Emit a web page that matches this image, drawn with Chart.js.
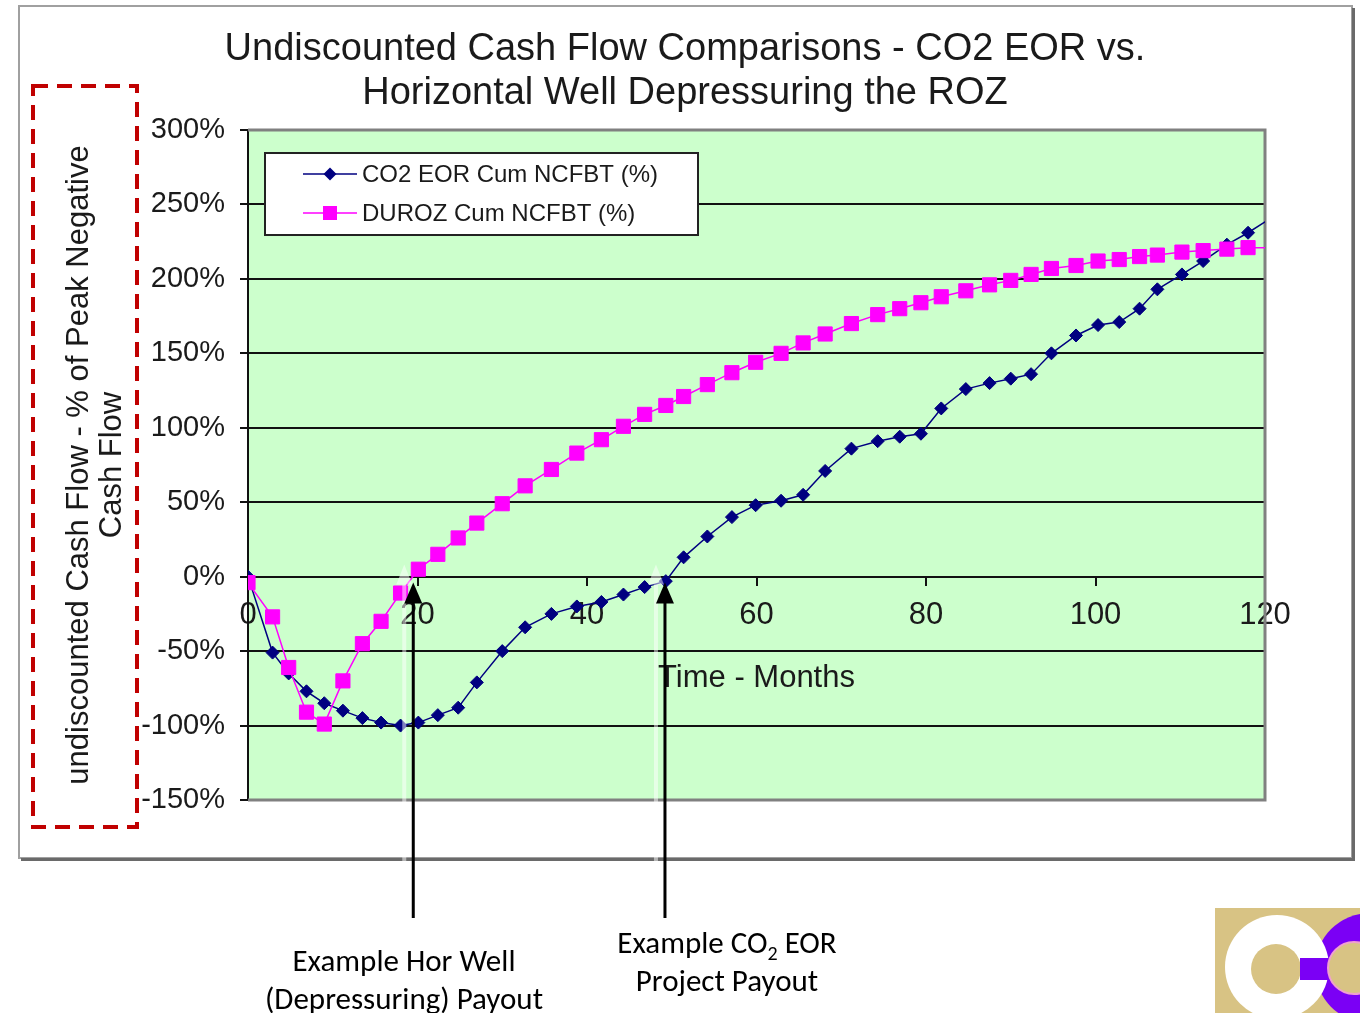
<!DOCTYPE html>
<html>
<head>
<meta charset="utf-8">
<title>Undiscounted Cash Flow Comparisons</title>
<script src="https://cdn.jsdelivr.net/npm/chart.js@4.4.1/dist/chart.umd.min.js"></script>
<style>
  html, body { margin: 0; padding: 0; background: #fff; }
  #wrap { position: relative; width: 1360px; height: 1013px; overflow: hidden; }
  #cashChart { position: absolute; left: 0; top: 0; }
  .note {
    position: absolute;
    font-family: Carlito, Lato, 'Open Sans', sans-serif;
    font-size: 31px;
    line-height: 38px;
    color: #000;
    text-align: center;
    white-space: nowrap;
    transform: translateX(-50%);
  }
  .note sub { font-size: 20px; line-height: 0; vertical-align: -7px; }
</style>
</head>
<body>
<div id="wrap">
  <canvas id="cashChart" width="1360" height="1013"></canvas>
  <div class="note" style="left:404px; top:941px;">Example Hor Well<br>(Depressuring) Payout</div>
  <div class="note" style="left:727px; top:923px;">Example CO<sub>2</sub> EOR<br>Project Payout</div>
</div>
<script>
// Time axis (months) shared by both series
const months = [0, 2.9, 4.8, 6.9, 9.0, 11.2, 13.5, 15.7, 18.0, 20.1,
    22.4, 24.8, 27.0, 30.0, 32.7, 35.8, 38.8, 41.7, 44.3, 46.8,
    49.3, 51.4, 54.2, 57.1, 59.9, 62.9, 65.5, 68.1, 71.2, 74.3,
    76.9, 79.4, 81.8, 84.7, 87.5, 90.0, 92.4, 94.8, 97.7, 100.3,
    102.8, 105.2, 107.3, 110.2, 112.7, 115.5, 118.0, 121];

// CO2 EOR cumulative NCFBT, % of peak negative cash flow
const co2EorPct = [0, -51, -65, -77, -85, -90, -95, -98, -100, -98,
    -93, -88, -71, -50, -34, -25, -20, -17, -12, -7,
    -3, 13, 27, 40, 48, 51, 55, 71, 86, 91,
    94, 96, 113, 126, 130, 133, 136, 150, 162, 169,
    171, 180, 193, 203, 212, 223, 231, 242];

// Horizontal well depressuring (DUROZ) cumulative NCFBT, %
const durozPct = [-4, -27, -61, -91, -99, -70, -45, -30, -11, 5,
    15, 26, 36, 49, 61, 72, 83, 92, 101, 109,
    115, 121, 129, 137, 144, 150, 157, 163, 170, 176,
    180, 184, 188, 192, 196, 199, 203, 207, 209, 212,
    213, 215, 216, 218, 219, 220, 221, 221];

const seriesLabels = ['CO2 EOR Cum NCFBT (%)', 'DUROZ Cum NCFBT (%)'];
const titleLines = ['Undiscounted Cash Flow Comparisons - CO2 EOR vs.',
    'Horizontal Well Depressuring the ROZ'];
const yTitleLines = ['undiscounted Cash Flow - % of Peak Negative', 'Cash Flow'];

// payout points the arrows point at (month, % value)
const payoutMonths = [19.5, 49.2];
const payoutValue = -4;

const FONT = "'Liberation Sans', Arial, sans-serif";
const TEXT = '#1a1a1a';

// page frame, green plot background, dashed red box
const backdrop = {
    id: 'backdrop',
    beforeDraw(chart) {
        const {ctx, chartArea: a} = chart;
        ctx.save();
        ctx.fillStyle = '#fff';
        ctx.fillRect(0, 0, chart.width, chart.height);
        ctx.strokeStyle = '#a0a0a0';
        ctx.lineWidth = 2;
        ctx.strokeRect(19, 6, 1333, 852);
        ctx.strokeStyle = '#6a6a6a';
        ctx.lineWidth = 3;
        ctx.beginPath();
        ctx.moveTo(21, 859.5);
        ctx.lineTo(1353.5, 859.5);
        ctx.lineTo(1353.5, 8);
        ctx.stroke();
        ctx.fillStyle = '#CCFFCC';
        ctx.fillRect(a.left, a.top, a.right - a.left, a.bottom - a.top);
        ctx.restore();
    },
    beforeDatasetsDraw(chart) {
        const {ctx, chartArea: a} = chart;
        ctx.save();
        ctx.strokeStyle = '#808080';
        ctx.lineWidth = 3;
        ctx.beginPath();
        ctx.moveTo(a.left, a.top);
        ctx.lineTo(a.right, a.top);
        ctx.lineTo(a.right, a.bottom);
        ctx.lineTo(a.left, a.bottom);
        ctx.stroke();
        ctx.restore();
    },
    afterDraw(chart) {
        const {ctx} = chart;
        ctx.save();
        ctx.strokeStyle = '#C00000';
        ctx.lineWidth = 4;
        ctx.setLineDash([15, 9]);
        ctx.strokeRect(33, 86, 104, 741);
        ctx.restore();
    }
};

// boxed legend inside the plot, top left
const legendBox = {
    id: 'legendBox',
    afterDatasetsDraw(chart) {
        const {ctx, chartArea: a} = chart;
        const x = a.left + 17, y = a.top + 23, w = 433, h = 82;
        ctx.save();
        ctx.fillStyle = '#fff';
        ctx.fillRect(x, y, w, h);
        ctx.strokeStyle = '#222';
        ctx.lineWidth = 2;
        ctx.strokeRect(x, y, w, h);
        chart.data.datasets.forEach((ds, i) => {
            const ly = y + 21 + i * 39;
            const mx = x + 65;
            ctx.strokeStyle = ds.borderColor;
            ctx.lineWidth = 1.5;
            ctx.beginPath();
            ctx.moveTo(x + 38, ly);
            ctx.lineTo(x + 92, ly);
            ctx.stroke();
            ctx.fillStyle = ds.pointBackgroundColor;
            ctx.beginPath();
            if (ds.pointStyle === 'rectRot') {
                ctx.moveTo(mx, ly - 6.5);
                ctx.lineTo(mx + 6.5, ly);
                ctx.lineTo(mx, ly + 6.5);
                ctx.lineTo(mx - 6.5, ly);
            } else {
                ctx.rect(mx - 7, ly - 7, 14, 14);
            }
            ctx.fill();
            ctx.fillStyle = TEXT;
            ctx.font = '24px ' + FONT;
            ctx.textBaseline = 'middle';
            ctx.fillText(ds.label, x + 97, ly + 1);
        });
        ctx.restore();
    }
};

// payout arrows and logo
const extras = {
    id: 'extras',
    afterDraw(chart) {
        const {ctx, scales} = chart;
        ctx.save();
        payoutMonths.forEach(m => {
            const px = scales.x.getPixelForValue(m);
            const tip = scales.y.getPixelForValue(payoutValue);
            // faint ghost arrow
            ctx.strokeStyle = 'rgba(255,255,255,0.5)';
            ctx.fillStyle = 'rgba(255,255,255,0.5)';
            ctx.lineWidth = 4;
            ctx.beginPath();
            ctx.moveTo(px - 9, tip + 2);
            ctx.lineTo(px - 9, 918);
            ctx.stroke();
            ctx.beginPath();
            ctx.moveTo(px - 9, tip - 18);
            ctx.lineTo(px - 17, tip + 2);
            ctx.lineTo(px - 1, tip + 2);
            ctx.fill();
            // black arrow
            ctx.strokeStyle = '#000';
            ctx.fillStyle = '#000';
            ctx.lineWidth = 3;
            ctx.beginPath();
            ctx.moveTo(px, tip + 18);
            ctx.lineTo(px, 918);
            ctx.stroke();
            ctx.beginPath();
            ctx.moveTo(px, tip);
            ctx.lineTo(px - 9, tip + 21);
            ctx.lineTo(px + 9, tip + 21);
            ctx.closePath();
            ctx.fill();
        });
        // logo
        ctx.fillStyle = '#D8C384';
        ctx.fillRect(1215, 908, 145, 105);
        ctx.fillStyle = '#7B00F5';
        ctx.beginPath();
        ctx.arc(1370, 968, 55, 0, Math.PI * 2);
        ctx.fill();
        ctx.fillStyle = '#fff';
        ctx.beginPath();
        ctx.arc(1277, 967, 52, 0, Math.PI * 2);
        ctx.fill();
        ctx.fillStyle = '#D8C384';
        ctx.beginPath();
        ctx.arc(1276, 969, 25, 0, Math.PI * 2);
        ctx.fill();
        ctx.fillStyle = '#7B00F5';
        ctx.fillRect(1300, 958, 30, 22);
        ctx.strokeStyle = '#F0A0D0';
        ctx.lineWidth = 2;
        ctx.fillStyle = '#D8C384';
        ctx.beginPath();
        ctx.arc(1354, 968, 26, 0, Math.PI * 2);
        ctx.fill();
        ctx.stroke();
        ctx.restore();
    }
};

const ctx = document.getElementById('cashChart').getContext('2d');
const cashChart = new Chart(ctx, {
    type: 'line',
    data: {
        datasets: [{
            label: seriesLabels[0],
            data: months.map((m, i) => ({x: m, y: co2EorPct[i]})),
            borderColor: '#000080',
            backgroundColor: '#000080',
            borderWidth: 1.5,
            pointStyle: 'rectRot',
            pointRadius: 6.5,
            pointBackgroundColor: '#000080',
            pointBorderColor: '#000080',
            pointBorderWidth: 1,
            order: 2,
        }, {
            label: seriesLabels[1],
            data: months.map((m, i) => ({x: m, y: durozPct[i]})),
            borderColor: '#FF00FF',
            backgroundColor: '#FF00FF',
            borderWidth: 1.5,
            pointStyle: 'rect',
            pointRadius: 10,
            pointBackgroundColor: '#FF00FF',
            pointBorderColor: '#FF00FF',
            pointBorderWidth: 1,
            order: 1,
        }]
    },
    options: {
        responsive: false,
        animation: false,
        devicePixelRatio: 1,
        layout: {
            padding: {left: 28, right: 18, top: 10, bottom: 213},
        },
        scales: {
            x: {
                type: 'linear',
                position: {y: 0},
                min: 0,
                max: 120,
                ticks: {
                    stepSize: 20,
                    padding: 12,
                    color: TEXT,
                    font: {family: FONT, size: 31},
                },
                grid: {
                    drawOnChartArea: false,
                    drawTicks: true,
                    tickLength: 8,
                    color: '#111',
                    lineWidth: 2,
                },
                border: {color: '#111', width: 2},
                title: {
                    display: true,
                    text: 'Time - Months',
                    color: TEXT,
                    font: {family: FONT, size: 31},
                    padding: {top: 14, bottom: 0},
                },
            },
            y: {
                min: -150,
                max: 300,
                afterFit: s => { s.width = 220; },
                ticks: {
                    stepSize: 50,
                    padding: 15,
                    color: TEXT,
                    font: {family: FONT, size: 29},
                    callback: v => v + '%',
                },
                grid: {
                    color: '#111',
                    lineWidth: 2,
                    tickLength: 8,
                },
                border: {color: '#111', width: 2},
                title: {
                    display: true,
                    text: yTitleLines,
                    color: TEXT,
                    font: {family: FONT, size: 31, lineHeight: 1.07},
                    padding: {top: 35, bottom: 0},
                },
            },
            yRight: {
                type: 'linear',
                position: 'right',
                afterFit: s => { s.width = 77; },
                grid: {display: false},
                ticks: {display: false},
                border: {display: false},
            },
        },
        plugins: {
            legend: {display: false},
            tooltip: {enabled: false},
            title: {
                display: true,
                text: titleLines,
                color: TEXT,
                font: {family: FONT, size: 38, weight: 'normal', lineHeight: 1.158},
                padding: {top: 18, bottom: 14},
            },
        },
    },
    plugins: [backdrop, legendBox, extras],
});
</script>
</body>
</html>
